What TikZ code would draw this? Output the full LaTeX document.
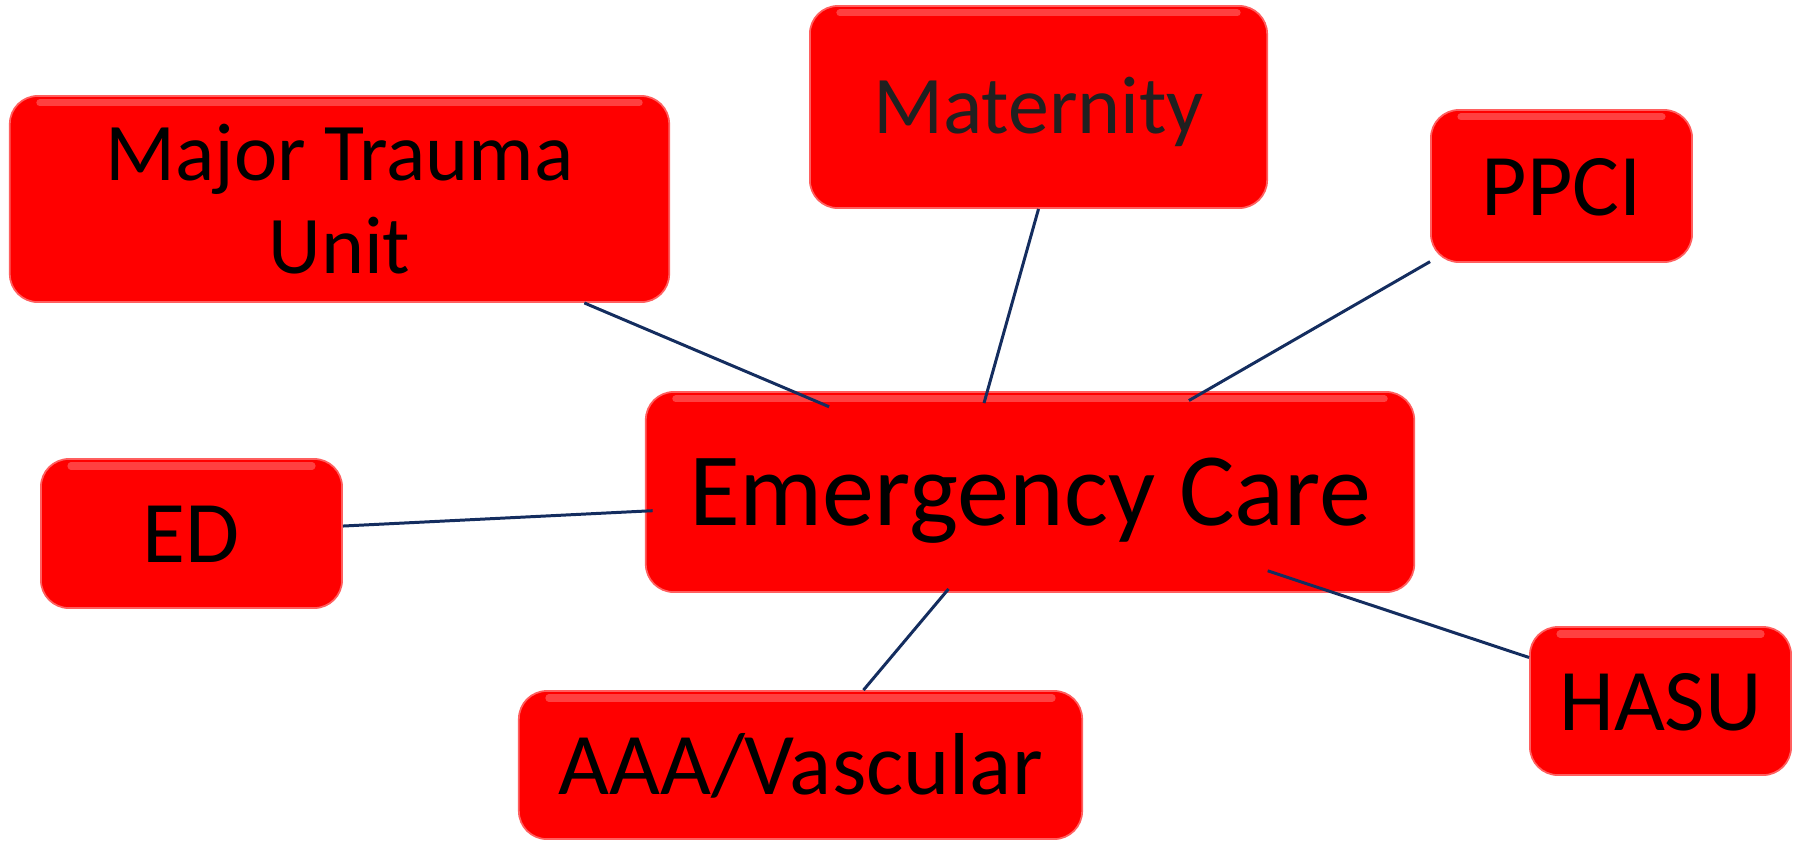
\documentclass[tikz,border=0pt]{standalone}
\usepackage{fontspec}
\setmainfont{Carlito}
\usetikzlibrary{calc}
\definecolor{boxred}{RGB}{255,0,0}
\definecolor{rimred}{RGB}{255,95,95}
\definecolor{linknavy}{RGB}{20,45,95}
\definecolor{matgray}{RGB}{32,32,32}
\tikzset{
  unitbox/.style={draw=rimred, line width=0.5pt, fill=boxred, rounded corners=0.28cm,
    inner sep=0pt, align=center,
    path picture={\draw[white,opacity=0.25,line width=2pt,line cap=round]
      ([xshift=0.3cm,yshift=-0.07cm]path picture bounding box.north west) --
      ([xshift=-0.3cm,yshift=-0.07cm]path picture bounding box.north east);}},
  link/.style={draw=linknavy, line width=0.85pt},
  bigtext/.style={font=\fontsize{29.6}{33}\selectfont, text height=0.67cm, text depth=0pt},
  midtext/.style={font=\fontsize{25}{30}\selectfont, text height=0.58cm, text depth=0pt},
  smalltext/.style={font=\fontsize{23.3}{26.5}\selectfont},
}
\begin{document}
\begin{tikzpicture}[x=0.01cm,y=-0.01cm]
\useasboundingbox (0,0) rectangle (1798,841);
\node[unitbox, smalltext, minimum width=6.59cm, minimum height=2.06cm] (mtu) at (339.5,199) {Major Trauma\\Unit};
\node[unitbox, smalltext, text=matgray, text height=0.53cm, text depth=0pt, minimum width=4.57cm, minimum height=2.02cm] (mat) at (1038.5,107) {Maternity};
\node[unitbox, midtext, minimum width=2.61cm, minimum height=1.52cm] (ppci) at (1561.5,186) {PPCI};
\node[unitbox, bigtext, minimum width=7.68cm, minimum height=2.00cm] (ec) at (1030,492) {Emergency Care};
\node[unitbox, midtext, minimum width=3.01cm, minimum height=1.49cm] (ed) at (191.5,533.5) {ED};
\node[unitbox, midtext, minimum width=5.63cm, minimum height=1.48cm] (aaa) at (800.5,765) {AAA/Vascular};
\node[unitbox, midtext, minimum width=2.61cm, minimum height=1.48cm] (hasu) at (1660.5,701) {HASU};
\foreach \n/\t in {mtu/0.291, ppci/0.299, ed/0.45, aaa/0.355, hasu/0.377}
    \draw[link] (\n) -- ($(ec)!\t!(\n)$);
\draw[link] (mat.south) -- ($(ec.north)+(-46,12)$);
\end{tikzpicture}
\end{document}
